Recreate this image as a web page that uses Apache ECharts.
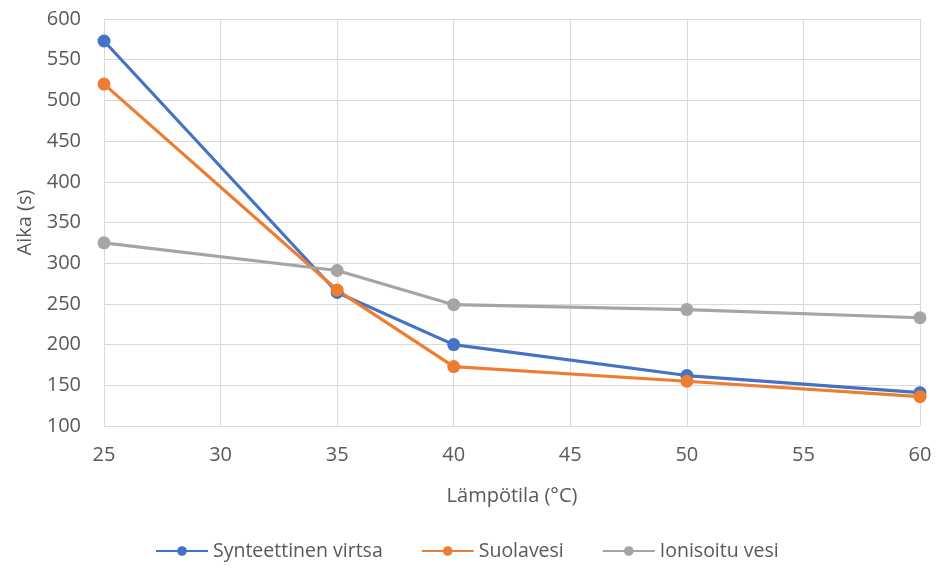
<!DOCTYPE html>
<html>
<head>
<meta charset="utf-8">
<script src="https://cdn.jsdelivr.net/npm/echarts@6/dist/echarts.min.js"></script>
<style>html,body{margin:0;padding:0;background:#fff}#c{width:936px;height:570px}</style>
</head>
<body>
<div id="c"></div>
<script>
const temps = [25, 35, 40, 50, 60];
const synteettinen = [573, 264, 200, 162, 141];
const suolavesi = [520, 267, 173, 155, 136];
const ionisoitu = [325, 291, 249, 243, 233];
const seriesNames = ['Synteettinen virtsa', 'Suolavesi', 'Ionisoitu vesi'];
const colors = ['#4472C4', '#ED7D31', '#A5A5A5'];

const font = '"Open Sans", sans-serif';
const chart = echarts.init(document.getElementById('c'));
function mk(name, vals, color) {
  return {
    name: name, type: 'line',
    data: temps.map((t, i) => [t, vals[i]]),
    symbol: 'circle', symbolSize: 13,
    lineStyle: { width: 3.2, color: color },
    itemStyle: { color: color },
    emphasis: { disabled: true }
  };
}
chart.setOption({
  animation: false,
  textStyle: { fontFamily: font },
  grid: { left: 104, right: 16, top: 19, bottom: 144, containLabel: false },
  xAxis: {
    type: 'value', min: 25, max: 60, interval: 5,
    name: 'Lämpötila (°C)', nameLocation: 'middle', nameGap: 60,
    nameTextStyle: { color: '#595959', fontSize: 20, fontFamily: font },
    axisLine: { show: false }, axisTick: { show: false },
    axisLabel: { color: '#595959', fontSize: 20, margin: 19, fontFamily: font },
    splitLine: { show: true, lineStyle: { color: '#d9d9d9', width: 1 } }
  },
  yAxis: {
    type: 'value', min: 100, max: 600, interval: 50,
    name: 'Aika (s)', nameLocation: 'middle', nameGap: 68,
    nameTextStyle: { color: '#595959', fontSize: 20, fontFamily: font },
    axisLine: { show: false }, axisTick: { show: false },
    axisLabel: { color: '#595959', fontSize: 20, margin: 23, fontFamily: font },
    splitLine: { show: true, lineStyle: { color: '#d9d9d9', width: 1 } }
  },
  legend: {
    bottom: 4, left: 150, itemWidth: 52, itemHeight: 12, itemGap: 38,
    textStyle: { color: '#595959', fontSize: 19.5, fontFamily: font },
    data: seriesNames
  },
  series: [
    mk(seriesNames[0], synteettinen, colors[0]),
    mk(seriesNames[1], suolavesi, colors[1]),
    mk(seriesNames[2], ionisoitu, colors[2])
  ]
});
</script>
</body>
</html>
